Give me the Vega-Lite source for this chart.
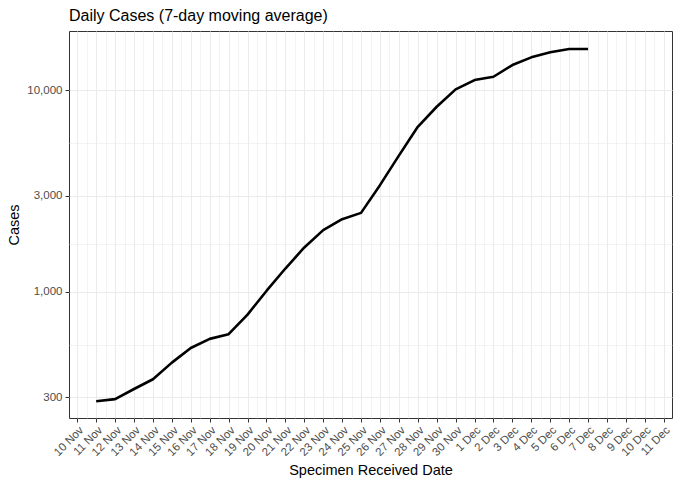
{
  "$schema": "https://vega.github.io/schema/vega-lite/v6.json",
  "width": 603,
  "height": 387,
  "autosize": "none",
  "padding": {"left": 69, "top": 31, "right": 8, "bottom": 68},
  "background": "white",
  "title": {
    "text": "Daily Cases (7-day moving average)",
    "anchor": "start",
    "frame": "group",
    "font": "Liberation Sans",
    "fontSize": 16,
    "fontWeight": "normal",
    "color": "black",
    "offset": 7
  },
  "config": {
    "font": "Liberation Sans",
    "view": {"stroke": "#333333", "strokeWidth": 1}
  },
  "data": {
    "values": [
      {"date": "2020-11-11", "cases": 287},
      {"date": "2020-11-12", "cases": 294},
      {"date": "2020-11-13", "cases": 330},
      {"date": "2020-11-14", "cases": 369},
      {"date": "2020-11-15", "cases": 446},
      {"date": "2020-11-16", "cases": 527},
      {"date": "2020-11-17", "cases": 585},
      {"date": "2020-11-18", "cases": 617},
      {"date": "2020-11-19", "cases": 772},
      {"date": "2020-11-20", "cases": 1011},
      {"date": "2020-11-21", "cases": 1306},
      {"date": "2020-11-22", "cases": 1661},
      {"date": "2020-11-23", "cases": 2024},
      {"date": "2020-11-24", "cases": 2295},
      {"date": "2020-11-25", "cases": 2466},
      {"date": "2020-11-26", "cases": 3384},
      {"date": "2020-11-27", "cases": 4742},
      {"date": "2020-11-28", "cases": 6590},
      {"date": "2020-11-29", "cases": 8282},
      {"date": "2020-11-30", "cases": 10100},
      {"date": "2020-12-01", "cases": 11235},
      {"date": "2020-12-02", "cases": 11667},
      {"date": "2020-12-03", "cases": 13335},
      {"date": "2020-12-04", "cases": 14560},
      {"date": "2020-12-05", "cases": 15420},
      {"date": "2020-12-06", "cases": 16015},
      {"date": "2020-12-07", "cases": 16015}
    ]
  },
  "layer": [
    {
      "mark": {"type": "line", "color": "black", "strokeOpacity": 0},
      "encoding": {
        "x": {
          "field": "date",
          "type": "temporal",
          "scale": {"type": "utc", "domain": [1604928600000, 1607682600000]},
          "axis": {
            "orient": "top",
            "values": [1605009600000, 1605096000000, 1605182400000, 1605268800000, 1605355200000, 1605441600000, 1605528000000, 1605614400000, 1605700800000, 1605787200000, 1605873600000, 1605960000000, 1606046400000, 1606132800000, 1606219200000, 1606305600000, 1606392000000, 1606478400000, 1606564800000, 1606651200000, 1606737600000, 1606824000000, 1606910400000, 1606996800000, 1607083200000, 1607169600000, 1607256000000, 1607342400000, 1607428800000, 1607515200000, 1607601600000],
            "labels": false,
            "ticks": false,
            "domain": false,
            "title": null,
            "grid": true,
            "gridColor": "#EBEBEB",
            "gridWidth": 0.6
          }
        },
        "y": {
          "field": "cases",
          "type": "quantitative",
          "scale": {"type": "log", "domain": [237, 19670], "nice": false},
          "axis": {
            "orient": "right",
            "values": [548, 1733, 5477],
            "labels": false,
            "ticks": false,
            "domain": false,
            "title": null,
            "grid": true,
            "gridColor": "#EBEBEB",
            "gridWidth": 0.6
          }
        }
      }
    },
    {
      "mark": {"type": "line", "color": "black", "strokeWidth": 2.6, "strokeJoin": "round"},
      "encoding": {
        "x": {
          "field": "date",
          "type": "temporal",
          "title": "Specimen Received Date",
          "axis": {
            "orient": "bottom",
            "values": [1604966400000, 1605052800000, 1605139200000, 1605225600000, 1605312000000, 1605398400000, 1605484800000, 1605571200000, 1605657600000, 1605744000000, 1605830400000, 1605916800000, 1606003200000, 1606089600000, 1606176000000, 1606262400000, 1606348800000, 1606435200000, 1606521600000, 1606608000000, 1606694400000, 1606780800000, 1606867200000, 1606953600000, 1607040000000, 1607126400000, 1607212800000, 1607299200000, 1607385600000, 1607472000000, 1607558400000, 1607644800000],
            "format": "%-d %b",
            "labelAngle": -45,
            "labelAlign": "right",
            "labelBaseline": "top",
            "labelOverlap": false,
            "labelBound": false,
            "labelFlush": false,
            "labelFontSize": 11.5,
            "labelColor": "#4D4D4D",
            "labelPadding": 2,
            "domain": false,
            "tickSize": 4,
            "tickColor": "#333333",
            "tickWidth": 1,
            "grid": true,
            "gridColor": "#EBEBEB",
            "gridWidth": 1.1,
            "titleFontSize": 14.5,
            "titleFontWeight": "normal",
            "titleColor": "black",
            "titlePadding": 6
          }
        },
        "y": {
          "field": "cases",
          "type": "quantitative",
          "title": "Cases",
          "axis": {
            "orient": "left",
            "values": [300, 1000, 3000, 10000],
            "format": ",",
            "labelFontSize": 11.5,
            "labelColor": "#4D4D4D",
            "labelPadding": 3,
            "labelOverlap": false,
            "labelBound": false,
            "labelFlush": false,
            "domain": false,
            "tickSize": 4,
            "tickColor": "#333333",
            "tickWidth": 1,
            "grid": true,
            "gridColor": "#EBEBEB",
            "gridWidth": 1.1,
            "titleFontSize": 14.5,
            "titleFontWeight": "normal",
            "titleColor": "black",
            "titlePadding": 5
          }
        }
      }
    }
  ],
  "resolve": {"axis": {"x": "independent", "y": "independent"}}
}
